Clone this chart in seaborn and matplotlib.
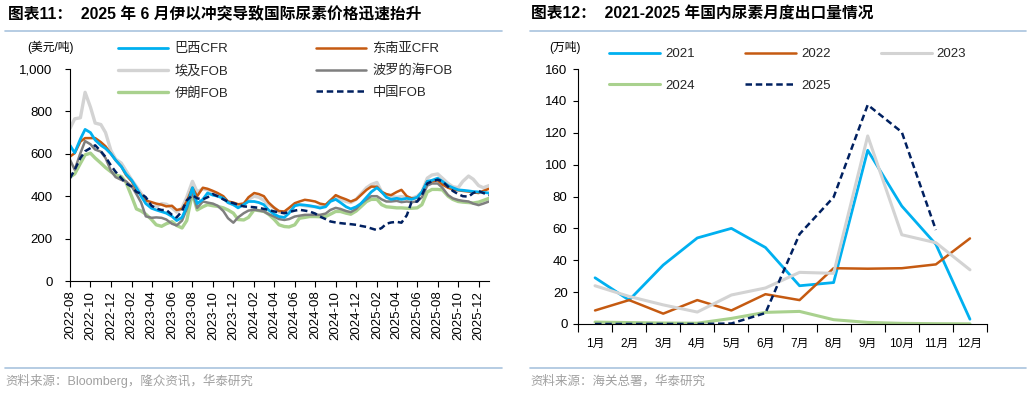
import numpy as np
import pandas as pd
import matplotlib
matplotlib.use('Agg')
import matplotlib.pyplot as plt
import seaborn as sns
from matplotlib.lines import Line2D
from matplotlib.ticker import FuncFormatter, FixedLocator

sns.set_theme(style='white')
FONT = ['Liberation Sans', 'Noto Sans CJK SC']
plt.rcParams['font.family'] = FONT
plt.rcParams['axes.unicode_minus'] = False

# ---------------- left chart data (semi-monthly, USD/t) ----------------
dates = pd.date_range('2022-08-01', '2026-01-01', freq='SMS')

brazil_cfr = [640, 605, 670, 715, 700, 665, 640, 625, 600, 570, 540, 505,
              475, 440, 400, 365, 343, 335, 327, 320, 305, 285, 300, 350,
              440, 365, 385, 415, 405, 400, 390, 370, 360, 345, 360, 375,
              375, 370, 360, 335, 315, 304, 300, 320, 355, 360, 358, 355,
              350, 344, 350, 375, 385, 370, 350, 340, 350, 365, 395, 420,
              440, 420, 395, 385, 390, 385, 390, 385, 395, 420, 470, 475,
              485, 470, 450, 440, 430, 428, 425, 422, 420, 418, 415]
sea_cfr = [587, 603, 658, 674, 674, 674, 655, 635, 600, 570, 540, 500,
           470, 430, 406, 380, 372, 365, 360, 352, 355, 335, 340, 375,
           440, 400, 440, 435, 425, 415, 400, 375, 370, 362, 365, 395,
           415, 410, 400, 370, 345, 330, 328, 345, 367, 375, 383, 380,
           375, 365, 360, 380, 405, 395, 385, 375, 385, 405, 430, 445,
           445, 420, 410, 405, 420, 430, 400, 390, 392, 420, 470, 470,
           475, 455, 440, 432, 428, 425, 422, 418, 415, 425, 435]
egypt_fob = [720, 765, 770, 890, 820, 745, 738, 700, 615, 575, 556, 520,
             477, 446, 414, 375, 352, 352, 365, 362, 345, 325, 345, 395,
             470, 420, 435, 430, 420, 410, 395, 370, 360, 355, 365, 385,
             400, 395, 380, 360, 345, 325, 320, 335, 358, 360, 355, 352,
             350, 350, 355, 380, 395, 385, 375, 370, 385, 410, 440, 455,
             465, 420, 405, 400, 395, 398, 395, 390, 400, 420, 485, 500,
             505, 485, 460, 445, 440, 470, 495, 480, 450, 440, 450]
baltic_fob = [572, 525, 603, 660, 645, 620, 610, 580, 520, 490, 477, 470,
              446, 410, 370, 305, 298, 300, 298, 290, 270, 262, 285, 340,
              420, 345, 375, 370, 365, 355, 330, 296, 275, 300, 320, 332,
              336, 333, 328, 315, 304, 292, 288, 292, 304, 308, 312, 312,
              312, 312, 318, 335, 345, 340, 330, 325, 340, 365, 385, 400,
              400, 385, 375, 375, 378, 372, 375, 372, 375, 395, 450, 460,
              460, 440, 405, 390, 382, 378, 375, 365, 358, 365, 375]
iran_fob = [490, 505, 555, 595, 603, 580, 556, 535, 515, 500, 493, 465,
            398, 340, 330, 315, 290, 265, 258, 270, 280, 262, 250, 285,
            415, 335, 350, 360, 355, 352, 345, 335, 320, 290, 288, 300,
            336, 332, 328, 315, 290, 265, 257, 255, 265, 296, 300, 304,
            304, 303, 304, 315, 328, 328, 320, 315, 330, 350, 375, 385,
            385, 360, 350, 348, 345, 345, 343, 343, 345, 360, 420, 432,
            432, 430, 400, 385, 375, 372, 370, 368, 372, 380, 390]
china_fob = [485, 525, 580, 612, 627, 640, 612, 585, 545, 515, 485, 460,
             445, 420, 412, 395, 355, 342, 335, 335, 312, 300, 330, 380,
             405, 390, 385, 395, 410, 400, 385, 375, 367, 360, 352, 350,
             348, 345, 340, 335, 328, 324, 320, 325, 332, 336, 332, 328,
             318, 304, 292, 281, 276, 273, 270, 268, 265, 260, 255, 248,
             240, 250, 270, 276, 279, 275, 310, 372, 375, 405, 460, 470,
             478, 470, 445, 425, 410, 400, 398, 415, 425, 415, 405]

left_names = ['巴西CFR', '东南亚CFR', '埃及FOB', '波罗的海FOB', '伊朗FOB', '中国FOB']
left_values = [brazil_cfr, sea_cfr, egypt_fob, baltic_fob, iran_fob, china_fob]

# ---------------- right chart data (10k t) ----------------
months = ['1月', '2月', '3月', '4月', '5月', '6月', '7月', '8月', '9月', '10月', '11月', '12月']
exp_2021 = [29, 15, 37, 54, 60, 48, 24, 26, 109, 74, 50, 3]
exp_2022 = [8.5, 15, 6.5, 15, 8.5, 18.7, 15, 35, 34.7, 35, 37.4, 53.7]
exp_2023 = [24, 17.3, 12, 7.5, 18.2, 22.6, 32.4, 31.8, 118, 56, 51, 34]
exp_2024 = [1.2, 0.9, 0.6, 0.5, 3.5, 7.3, 7.9, 2.7, 1.0, 0.4, 0.2, 0.1]
exp_2025 = [0, 0, 0, 0, 0.3, 6.9, 56.4, 79.6, 137.5, 120.4, 59, np.nan]
right_names = ['2021', '2022', '2023', '2024', '2025']
right_values = [exp_2021, exp_2022, exp_2023, exp_2024, exp_2025]

# ---------------- styles ----------------
C_BLUE = '#00B0F0'
C_ORANGE = '#C55A11'
C_LGRAY = '#D3D3D3'
C_DGRAY = '#7F7F7F'
C_GREEN = '#A9D18E'
C_NAVY = '#002060'
DASH = (0, (2.6, 1.5))
left_style = {
    '巴西CFR': dict(color=C_BLUE, lw=2.0, ls='-'),
    '东南亚CFR': dict(color=C_ORANGE, lw=1.8, ls='-'),
    '埃及FOB': dict(color=C_LGRAY, lw=2.4, ls='-'),
    '波罗的海FOB': dict(color=C_DGRAY, lw=1.8, ls='-'),
    '伊朗FOB': dict(color=C_GREEN, lw=2.4, ls='-'),
    '中国FOB': dict(color=C_NAVY, lw=1.8, ls=DASH),
}
right_style = {
    '2021': dict(color=C_BLUE, lw=2.0, ls='-'),
    '2022': dict(color=C_ORANGE, lw=1.8, ls='-'),
    '2023': dict(color=C_LGRAY, lw=2.2, ls='-'),
    '2024': dict(color=C_GREEN, lw=2.2, ls='-'),
    '2025': dict(color=C_NAVY, lw=1.8, ls=DASH),
}

W, H = 1030, 394
fig = plt.figure(figsize=(W / 100, H / 100), dpi=100)
fig.patch.set_facecolor('white')


def fx(x):
    return x / W


def fy(y):
    return 1 - y / H


def style_axes(ax):
    for s in ['top', 'right']:
        ax.spines[s].set_visible(False)
    for s in ['left', 'bottom']:
        ax.spines[s].set_color('black')
        ax.spines[s].set_linewidth(0.8)
    ax.set_facecolor('white')
    ax.grid(False)
    ax.set_xlabel('')
    ax.set_ylabel('')


# ---------------- left axes ----------------
axL = fig.add_axes([fx(70), fy(281), fx(489 - 70), (281 - 69) / H])
left_order = ['埃及FOB', '伊朗FOB', '波罗的海FOB', '东南亚CFR', '巴西CFR', '中国FOB']
for name in left_order:
    vals = left_values[left_names.index(name)]
    st = left_style[name]
    sns.lineplot(x=dates, y=vals, ax=axL, color=st['color'], linewidth=st['lw'],
                 linestyle=st['ls'], estimator=None, legend=False)
style_axes(axL)
axL.set_ylim(0, 1000)
axL.set_yticks(np.arange(0, 1001, 200))
axL.yaxis.set_major_formatter(FuncFormatter(lambda v, p: f'{v:,.0f}'))
axL.set_xlim(pd.Timestamp('2022-08-01'), pd.Timestamp('2026-01-01'))
xt = pd.date_range('2022-08-01', '2025-12-01', freq='2MS')
axL.set_xticks(xt)
axL.set_xticklabels([d.strftime('%Y-%m') for d in xt], rotation=90)
axL.tick_params(axis='y', length=3.5, width=0.8, color='black', direction='out',
                left=True, pad=9, labelsize=9.5, labelcolor='black')
axL.tick_params(axis='x', length=4, width=0.8, color='black', direction='out',
                bottom=True, pad=3, labelsize=9.5, labelcolor='black')

# ---------------- right axes ----------------
axR = fig.add_axes([fx(578), fy(324), fx(987 - 578), (324 - 69) / H])
xpos = np.arange(len(months))
right_order = ['2021', '2022', '2024', '2023', '2025']
for name in right_order:
    vals = right_values[right_names.index(name)]
    st = right_style[name]
    sns.lineplot(x=xpos, y=vals, ax=axR, color=st['color'], linewidth=st['lw'],
                 linestyle=st['ls'], estimator=None, legend=False)
style_axes(axR)
axR.set_ylim(0, 160)
axR.set_yticks(np.arange(0, 161, 20))
axR.set_xlim(-0.5, len(months) - 0.5)
axR.xaxis.set_major_locator(FixedLocator(np.arange(-0.5, len(months), 1.0)))
axR.xaxis.set_minor_locator(FixedLocator(xpos))
axR.set_xticklabels([], minor=False)
axR.set_xticklabels(months, minor=True)
axR.tick_params(axis='x', which='major', length=5.5, width=0.8, color='black',
                direction='out', bottom=True)
axR.tick_params(axis='x', which='minor', length=0, pad=10, labelsize=8.5,
                labelcolor='black', bottom=True)
axR.tick_params(axis='y', length=3.5, width=0.8, color='black', direction='out',
                left=True, pad=4, labelsize=9.5, labelcolor='black')

# ---------------- legends ----------------
leg_order_L = ['巴西CFR', '埃及FOB', '伊朗FOB', '东南亚CFR', '波罗的海FOB', '中国FOB']
hL = [Line2D([], [], color=left_style[n]['color'], lw=left_style[n]['lw'],
             ls=left_style[n]['ls']) for n in leg_order_L]
legL = axL.legend(hL, leg_order_L, ncol=2, loc='upper left',
                  bbox_to_anchor=(fx(118), fy(43)), bbox_transform=fig.transFigure,
                  frameon=False, fontsize=9.5, handlelength=3.8, handletextpad=0.5,
                  columnspacing=6.6, labelspacing=0.72, borderpad=0, borderaxespad=0)

leg_order_R = ['2021', '2024', '2022', '2025', '2023']
hR = [Line2D([], [], color=right_style[n]['color'], lw=right_style[n]['lw'],
             ls=right_style[n]['ls']) for n in leg_order_R]
legR = axR.legend(hR, leg_order_R, ncol=3, loc='upper left',
                  bbox_to_anchor=(fx(609), fy(48)), bbox_transform=fig.transFigure,
                  frameon=False, fontsize=9.5, handlelength=3.9, handletextpad=0.35,
                  columnspacing=3.8, labelspacing=1.45, borderpad=0, borderaxespad=0)

# ---------------- titles, units, sources ----------------
fig.text(fx(8), fy(14), '图表11：  2025 年 6 月伊以冲突导致国际尿素价格迅速抬升',
         fontsize=11.3, fontweight='bold', ha='left', va='center', color='black')
fig.text(fx(531), fy(14), '图表12：  2021-2025 年国内尿素月度出口量情况',
         fontsize=11.3, fontweight='bold', ha='left', va='center', color='black')
fig.text(fx(51), fy(47), '(美元/吨)', fontsize=8.5, ha='center', va='center', color='black')
fig.text(fx(565), fy(47), '(万吨)', fontsize=8.5, ha='center', va='center', color='black')
fig.text(fx(5), fy(381), '资料来源：Bloomberg，隆众资讯，华泰研究', fontsize=9,
         ha='left', va='center', color='#A0A0A0')
fig.text(fx(530), fy(381), '资料来源：海关总署，华泰研究', fontsize=9,
         ha='left', va='center', color='#A0A0A0')

SEP = '#A9C3DE'
for (x0, x1) in [(5, 502), (530, 1026)]:
    fig.add_artist(Line2D([fx(x0), fx(x1)], [fy(31), fy(31)], color=SEP, lw=1.2))
    fig.add_artist(Line2D([fx(x0), fx(x1)], [fy(368), fy(368)], color=SEP, lw=1.2))

fig.savefig('out.png', dpi=100, facecolor='white')
